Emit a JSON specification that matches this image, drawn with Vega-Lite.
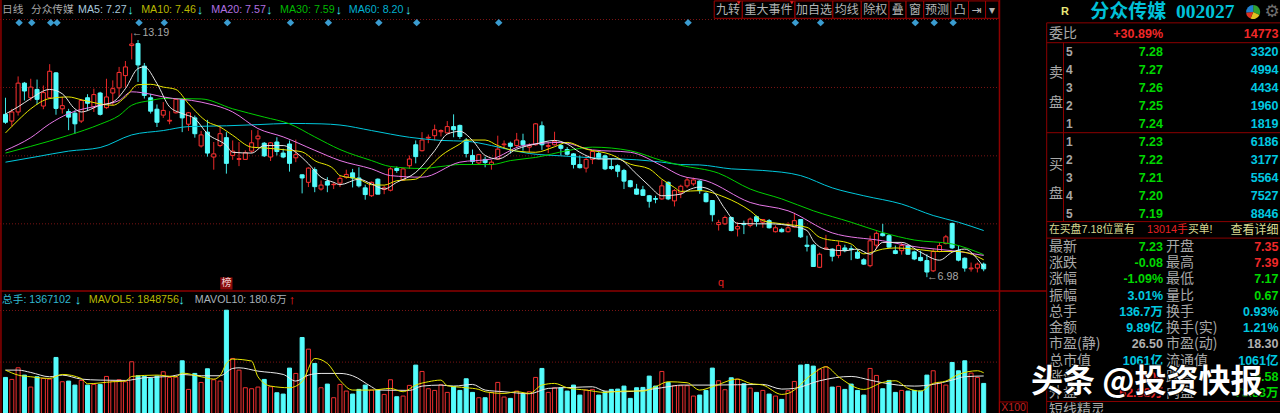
{
  "$schema": "https://vega.github.io/schema/vega-lite/v6.json",
  "width": 1280,
  "height": 413,
  "padding": 0,
  "autosize": {"type": "none"},
  "background": "#000000",
  "config": {"view": {"stroke": null}},
  "datasets": {
    "candles": [
      {"d":0,"dir":"down","o":11.14,"c":10.94,"h":11.56,"l":10.90,"v":17380},
      {"d":1,"dir":"up","o":10.97,"c":11.20,"h":11.28,"l":10.83,"v":16450},
      {"d":2,"dir":"up","o":11.20,"c":11.93,"h":12.10,"l":11.11,"v":21890},
      {"d":3,"dir":"down","o":11.93,"c":11.73,"h":11.96,"l":11.49,"v":18470},
      {"d":4,"dir":"up","o":11.56,"c":11.83,"h":12.04,"l":11.49,"v":12870},
      {"d":5,"dir":"down","o":11.77,"c":11.52,"h":12.02,"l":11.39,"v":17690},
      {"d":6,"dir":"up","o":11.35,"c":11.69,"h":11.87,"l":11.27,"v":16910},
      {"d":7,"dir":"up","o":11.56,"c":12.23,"h":12.41,"l":11.54,"v":16600},
      {"d":8,"dir":"down","o":12.19,"c":11.29,"h":12.21,"l":11.13,"v":26720},
      {"d":9,"dir":"up","o":11.28,"c":11.36,"h":11.58,"l":11.16,"v":15360},
      {"d":10,"dir":"down","o":11.21,"c":11.07,"h":11.28,"l":10.74,"v":15670},
      {"d":11,"dir":"down","o":11.17,"c":10.90,"h":11.24,"l":10.65,"v":13800},
      {"d":12,"dir":"up","o":10.97,"c":11.49,"h":11.53,"l":10.92,"v":15980},
      {"d":13,"dir":"down","o":11.56,"c":11.42,"h":11.65,"l":11.24,"v":13800},
      {"d":14,"dir":"up","o":11.33,"c":11.64,"h":11.79,"l":11.20,"v":14110},
      {"d":15,"dir":"down","o":11.68,"c":11.14,"h":11.71,"l":11.11,"v":14110},
      {"d":16,"dir":"up","o":11.31,"c":11.58,"h":12.04,"l":11.28,"v":17850},
      {"d":17,"dir":"up","o":11.68,"c":11.79,"h":12.00,"l":11.37,"v":15670},
      {"d":18,"dir":"up","o":11.81,"c":12.20,"h":12.34,"l":11.58,"v":16290},
      {"d":19,"dir":"up","o":12.12,"c":12.34,"h":12.49,"l":11.82,"v":15360},
      {"d":20,"dir":"up","o":12.88,"c":12.92,"h":13.19,"l":12.53,"v":24690},
      {"d":21,"dir":"down","o":12.93,"c":12.39,"h":13.02,"l":11.96,"v":18160},
      {"d":22,"dir":"down","o":12.36,"c":11.62,"h":12.44,"l":11.54,"v":17850},
      {"d":23,"dir":"down","o":11.56,"c":11.22,"h":11.66,"l":11.16,"v":16910},
      {"d":24,"dir":"down","o":11.27,"c":10.94,"h":11.39,"l":10.82,"v":18000},
      {"d":25,"dir":"up","o":11.12,"c":11.24,"h":11.45,"l":11.05,"v":20030},
      {"d":26,"dir":"up","o":10.97,"c":10.99,"h":11.22,"l":10.89,"v":17380},
      {"d":27,"dir":"up","o":11.18,"c":11.52,"h":11.54,"l":11.16,"v":17540},
      {"d":28,"dir":"down","o":11.51,"c":11.05,"h":11.54,"l":10.69,"v":25160},
      {"d":29,"dir":"up","o":10.89,"c":11.18,"h":11.20,"l":10.72,"v":11780},
      {"d":30,"dir":"down","o":11.05,"c":10.65,"h":11.11,"l":10.55,"v":19250},
      {"d":31,"dir":"up","o":10.34,"c":10.62,"h":10.72,"l":10.30,"v":15050},
      {"d":32,"dir":"down","o":10.69,"c":10.16,"h":11.00,"l":10.07,"v":21430},
      {"d":33,"dir":"up","o":10.06,"c":10.14,"h":10.44,"l":9.74,"v":16290},
      {"d":34,"dir":"up","o":10.35,"c":10.65,"h":10.86,"l":10.31,"v":15670},
      {"d":35,"dir":"down","o":10.55,"c":9.90,"h":10.69,"l":9.64,"v":48810},
      {"d":36,"dir":"up","o":10.10,"c":10.21,"h":10.48,"l":9.99,"v":26250},
      {"d":37,"dir":"up","o":10.00,"c":10.02,"h":10.44,"l":9.83,"v":20800},
      {"d":38,"dir":"up","o":10.00,"c":10.17,"h":10.23,"l":9.99,"v":12560},
      {"d":39,"dir":"up","o":10.21,"c":10.42,"h":10.74,"l":10.16,"v":12090},
      {"d":40,"dir":"up","o":10.52,"c":10.59,"h":10.74,"l":10.31,"v":12870},
      {"d":41,"dir":"down","o":10.41,"c":10.09,"h":10.44,"l":10.06,"v":16450},
      {"d":42,"dir":"up","o":10.06,"c":10.42,"h":10.44,"l":9.96,"v":13020},
      {"d":43,"dir":"down","o":10.44,"c":10.20,"h":10.56,"l":10.10,"v":10220},
      {"d":44,"dir":"down","o":10.16,"c":10.06,"h":10.27,"l":10.03,"v":9600},
      {"d":45,"dir":"down","o":10.39,"c":9.90,"h":10.48,"l":9.69,"v":21740},
      {"d":46,"dir":"up","o":10.04,"c":10.12,"h":10.50,"l":9.93,"v":19250},
      {"d":47,"dir":"down","o":9.61,"c":9.53,"h":9.62,"l":9.14,"v":36050},
      {"d":48,"dir":"up","o":9.42,"c":9.78,"h":9.80,"l":9.30,"v":30600},
      {"d":49,"dir":"down","o":9.74,"c":9.31,"h":9.80,"l":9.17,"v":23920},
      {"d":50,"dir":"up","o":9.25,"c":9.35,"h":9.47,"l":9.21,"v":12560},
      {"d":51,"dir":"down","o":9.44,"c":9.35,"h":9.55,"l":9.17,"v":14270},
      {"d":52,"dir":"up","o":9.36,"c":9.37,"h":9.42,"l":9.25,"v":7890},
      {"d":53,"dir":"up","o":9.40,"c":9.52,"h":9.60,"l":9.30,"v":14110},
      {"d":54,"dir":"up","o":9.55,"c":9.62,"h":9.74,"l":9.51,"v":11000},
      {"d":55,"dir":"down","o":9.66,"c":9.53,"h":9.76,"l":9.29,"v":9600},
      {"d":56,"dir":"down","o":9.53,"c":9.33,"h":9.80,"l":9.29,"v":11780},
      {"d":57,"dir":"down","o":9.28,"c":9.11,"h":9.36,"l":8.98,"v":13800},
      {"d":58,"dir":"up","o":9.08,"c":9.42,"h":9.44,"l":9.05,"v":11470},
      {"d":59,"dir":"down","o":9.50,"c":9.12,"h":9.52,"l":9.12,"v":11470},
      {"d":60,"dir":"up","o":9.24,"c":9.28,"h":9.34,"l":9.12,"v":9440},
      {"d":61,"dir":"up","o":9.22,"c":9.76,"h":9.80,"l":9.19,"v":16290},
      {"d":62,"dir":"down","o":9.77,"c":9.72,"h":9.82,"l":9.66,"v":8360},
      {"d":63,"dir":"up","o":9.48,"c":9.76,"h":9.78,"l":9.46,"v":8670},
      {"d":64,"dir":"up","o":9.84,"c":10.01,"h":10.10,"l":9.76,"v":13650},
      {"d":65,"dir":"down","o":10.37,"c":10.07,"h":10.48,"l":9.90,"v":23140},
      {"d":66,"dir":"up","o":10.22,"c":10.49,"h":10.69,"l":10.20,"v":20180},
      {"d":67,"dir":"up","o":10.54,"c":10.56,"h":10.63,"l":10.41,"v":12090},
      {"d":68,"dir":"up","o":10.60,"c":10.75,"h":10.88,"l":10.48,"v":11310},
      {"d":69,"dir":"up","o":10.70,"c":10.73,"h":10.76,"l":10.58,"v":13960},
      {"d":70,"dir":"up","o":10.67,"c":10.83,"h":10.97,"l":10.65,"v":10380},
      {"d":71,"dir":"down","o":10.83,"c":10.75,"h":11.14,"l":10.56,"v":13180},
      {"d":72,"dir":"down","o":10.86,"c":10.58,"h":10.88,"l":10.52,"v":11310},
      {"d":73,"dir":"down","o":10.49,"c":10.15,"h":10.54,"l":10.05,"v":16760},
      {"d":74,"dir":"down","o":10.10,"c":9.95,"h":10.25,"l":9.87,"v":10380},
      {"d":75,"dir":"up","o":9.91,"c":10.12,"h":10.14,"l":9.88,"v":7890},
      {"d":76,"dir":"down","o":10.00,"c":9.92,"h":10.07,"l":9.80,"v":7890},
      {"d":77,"dir":"up","o":9.87,"c":9.93,"h":9.98,"l":9.74,"v":10380},
      {"d":78,"dir":"up","o":10.01,"c":10.26,"h":10.60,"l":9.99,"v":15050},
      {"d":79,"dir":"up","o":10.37,"c":10.39,"h":10.48,"l":10.26,"v":8200},
      {"d":80,"dir":"down","o":10.41,"c":10.33,"h":10.45,"l":10.15,"v":7580},
      {"d":81,"dir":"up","o":10.35,"c":10.49,"h":10.67,"l":10.32,"v":11000},
      {"d":82,"dir":"down","o":10.47,"c":10.37,"h":10.65,"l":10.22,"v":9600},
      {"d":83,"dir":"up","o":10.31,"c":10.35,"h":10.41,"l":10.18,"v":10690},
      {"d":84,"dir":"up","o":10.37,"c":10.90,"h":10.92,"l":10.35,"v":17380},
      {"d":85,"dir":"down","o":10.85,"c":10.37,"h":10.96,"l":10.24,"v":21580},
      {"d":86,"dir":"up","o":10.33,"c":10.35,"h":10.43,"l":10.16,"v":10380},
      {"d":87,"dir":"up","o":10.37,"c":10.46,"h":10.70,"l":10.35,"v":12560},
      {"d":88,"dir":"down","o":10.35,"c":10.28,"h":10.39,"l":10.10,"v":12560},
      {"d":89,"dir":"down","o":10.25,"c":10.13,"h":10.31,"l":10.10,"v":11000},
      {"d":90,"dir":"down","o":10.14,"c":9.87,"h":10.16,"l":9.77,"v":13800},
      {"d":91,"dir":"down","o":9.87,"c":9.79,"h":10.10,"l":9.77,"v":9130},
      {"d":92,"dir":"up","o":9.78,"c":10.00,"h":10.09,"l":9.67,"v":11470},
      {"d":93,"dir":"up","o":10.00,"c":10.20,"h":10.22,"l":9.88,"v":11780},
      {"d":94,"dir":"down","o":10.15,"c":10.02,"h":10.20,"l":10.00,"v":9130},
      {"d":95,"dir":"down","o":10.09,"c":9.76,"h":10.12,"l":9.73,"v":10690},
      {"d":96,"dir":"down","o":9.82,"c":9.77,"h":10.03,"l":9.73,"v":11780},
      {"d":97,"dir":"down","o":9.84,"c":9.70,"h":9.88,"l":9.55,"v":11930},
      {"d":98,"dir":"down","o":9.72,"c":9.45,"h":9.76,"l":9.25,"v":13330},
      {"d":99,"dir":"down","o":9.46,"c":9.31,"h":9.48,"l":9.29,"v":7580},
      {"d":100,"dir":"down","o":9.25,"c":9.12,"h":9.38,"l":9.10,"v":12560},
      {"d":101,"dir":"down","o":9.23,"c":9.09,"h":9.33,"l":9.08,"v":12710},
      {"d":102,"dir":"down","o":9.08,"c":8.94,"h":9.10,"l":8.78,"v":18000},
      {"d":103,"dir":"down","o":9.01,"c":8.99,"h":9.08,"l":8.89,"v":13330},
      {"d":104,"dir":"up","o":9.00,"c":9.33,"h":9.48,"l":8.98,"v":20180},
      {"d":105,"dir":"down","o":9.42,"c":9.00,"h":9.44,"l":8.97,"v":15050},
      {"d":106,"dir":"up","o":8.95,"c":9.21,"h":9.25,"l":8.81,"v":13490},
      {"d":107,"dir":"up","o":9.15,"c":9.32,"h":9.36,"l":9.02,"v":13490},
      {"d":108,"dir":"up","o":9.33,"c":9.48,"h":9.55,"l":9.28,"v":13490},
      {"d":109,"dir":"up","o":9.38,"c":9.48,"h":9.54,"l":9.33,"v":8670},
      {"d":110,"dir":"down","o":9.45,"c":9.21,"h":9.47,"l":9.13,"v":9130},
      {"d":111,"dir":"down","o":9.14,"c":8.93,"h":9.17,"l":8.91,"v":11310},
      {"d":112,"dir":"down","o":8.96,"c":8.60,"h":8.97,"l":8.43,"v":21740},
      {"d":113,"dir":"up","o":8.35,"c":8.40,"h":8.47,"l":8.20,"v":15820},
      {"d":114,"dir":"up","o":8.37,"c":8.53,"h":8.58,"l":8.34,"v":11620},
      {"d":115,"dir":"down","o":8.53,"c":8.20,"h":8.55,"l":8.18,"v":17220},
      {"d":116,"dir":"up","o":8.24,"c":8.30,"h":8.41,"l":8.05,"v":16600},
      {"d":117,"dir":"down","o":8.38,"c":8.35,"h":8.45,"l":8.11,"v":14420},
      {"d":118,"dir":"up","o":8.33,"c":8.49,"h":8.53,"l":8.28,"v":12400},
      {"d":119,"dir":"down","o":8.55,"c":8.43,"h":8.58,"l":8.30,"v":10380},
      {"d":120,"dir":"up","o":8.41,"c":8.48,"h":8.49,"l":8.27,"v":11310},
      {"d":121,"dir":"down","o":8.45,"c":8.27,"h":8.49,"l":8.25,"v":9600},
      {"d":122,"dir":"up","o":8.17,"c":8.27,"h":8.33,"l":8.15,"v":8670},
      {"d":123,"dir":"down","o":8.23,"c":8.17,"h":8.27,"l":8.15,"v":7110},
      {"d":124,"dir":"up","o":8.17,"c":8.27,"h":8.41,"l":8.15,"v":11160},
      {"d":125,"dir":"up","o":8.29,"c":8.45,"h":8.65,"l":8.27,"v":15510},
      {"d":126,"dir":"down","o":8.48,"c":8.04,"h":8.49,"l":8.01,"v":23140},
      {"d":127,"dir":"down","o":7.83,"c":7.80,"h":8.07,"l":7.67,"v":23450},
      {"d":128,"dir":"down","o":7.83,"c":7.29,"h":7.86,"l":7.28,"v":22670},
      {"d":129,"dir":"up","o":7.27,"c":7.60,"h":7.64,"l":7.25,"v":21270},
      {"d":130,"dir":"up","o":7.73,"c":7.76,"h":8.09,"l":7.71,"v":22360},
      {"d":131,"dir":"down","o":7.73,"c":7.55,"h":7.75,"l":7.42,"v":12870},
      {"d":132,"dir":"up","o":7.57,"c":7.82,"h":7.93,"l":7.50,"v":13180},
      {"d":133,"dir":"down","o":7.76,"c":7.69,"h":7.84,"l":7.65,"v":11780},
      {"d":134,"dir":"down","o":7.74,"c":7.72,"h":7.82,"l":7.45,"v":14270},
      {"d":135,"dir":"down","o":7.65,"c":7.50,"h":7.73,"l":7.48,"v":11310},
      {"d":136,"dir":"down","o":7.46,"c":7.35,"h":7.50,"l":7.33,"v":9130},
      {"d":137,"dir":"up","o":7.31,"c":7.94,"h":8.07,"l":7.27,"v":21580},
      {"d":138,"dir":"up","o":7.83,"c":8.13,"h":8.18,"l":7.73,"v":18310},
      {"d":139,"dir":"down","o":8.12,"c":8.07,"h":8.37,"l":8.05,"v":12090},
      {"d":140,"dir":"down","o":8.07,"c":7.78,"h":8.11,"l":7.76,"v":15980},
      {"d":141,"dir":"down","o":7.69,"c":7.62,"h":7.82,"l":7.60,"v":10380},
      {"d":142,"dir":"up","o":7.69,"c":7.82,"h":7.90,"l":7.59,"v":11310},
      {"d":143,"dir":"down","o":7.82,"c":7.60,"h":7.84,"l":7.59,"v":11000},
      {"d":144,"dir":"down","o":7.66,"c":7.48,"h":7.69,"l":7.45,"v":11310},
      {"d":145,"dir":"down","o":7.52,"c":7.44,"h":7.69,"l":7.42,"v":11000},
      {"d":146,"dir":"down","o":7.44,"c":7.15,"h":7.60,"l":7.02,"v":18470},
      {"d":147,"dir":"up","o":7.18,"c":7.67,"h":7.73,"l":7.15,"v":20490},
      {"d":148,"dir":"up","o":7.67,"c":7.82,"h":7.90,"l":7.65,"v":14730},
      {"d":149,"dir":"up","o":7.87,"c":8.04,"h":8.09,"l":7.85,"v":13800},
      {"d":150,"dir":"down","o":8.38,"c":7.76,"h":8.40,"l":7.73,"v":24380},
      {"d":151,"dir":"down","o":7.69,"c":7.45,"h":7.82,"l":7.42,"v":20490},
      {"d":152,"dir":"down","o":7.50,"c":7.25,"h":7.52,"l":7.16,"v":25160},
      {"d":153,"dir":"up","o":7.23,"c":7.25,"h":7.39,"l":7.16,"v":19400},
      {"d":154,"dir":"up","o":7.25,"c":7.35,"h":7.39,"l":7.14,"v":17380},
      {"d":155,"dir":"down","o":7.35,"c":7.23,"h":7.39,"l":7.17,"v":14580}
    ],
    "ma": [
      {"s":"MA60","d":0,"p":9.93},{"s":"MA60","d":5,"p":10.07},{"s":"MA60","d":10,"p":10.21},{"s":"MA60","d":15,"p":10.30},{"s":"MA60","d":20,"p":10.62},{"s":"MA60","d":25,"p":10.73},{"s":"MA60","d":29,"p":10.83},{"s":"MA60","d":35,"p":10.85},{"s":"MA60","d":40,"p":10.88},{"s":"MA60","d":45,"p":10.91},{"s":"MA60","d":50,"p":10.90},{"s":"MA60","d":53,"p":10.87},{"s":"MA60","d":58,"p":10.73},{"s":"MA60","d":64,"p":10.56},{"s":"MA60","d":69,"p":10.48},{"s":"MA60","d":73,"p":10.46},{"s":"MA60","d":77,"p":10.35},{"s":"MA60","d":80,"p":10.24},{"s":"MA60","d":83,"p":10.15},{"s":"MA60","d":88,"p":10.09},{"s":"MA60","d":93,"p":10.04},{"s":"MA60","d":100,"p":9.99},{"s":"MA60","d":104,"p":9.93},{"s":"MA60","d":107,"p":9.87},{"s":"MA60","d":110,"p":9.86},{"s":"MA60","d":115,"p":9.76},{"s":"MA60","d":120,"p":9.72},{"s":"MA60","d":126,"p":9.59},{"s":"MA60","d":131,"p":9.28},{"s":"MA60","d":136,"p":9.08},{"s":"MA60","d":142,"p":8.87},{"s":"MA60","d":147,"p":8.58},{"s":"MA60","d":151,"p":8.41},{"s":"MA60","d":155,"p":8.20},
      {"s":"MA30","d":0,"p":10.16},{"s":"MA30","d":4,"p":10.33},{"s":"MA30","d":10,"p":10.61},{"s":"MA30","d":15,"p":10.89},{"s":"MA30","d":18,"p":11.11},{"s":"MA30","d":20,"p":11.37},{"s":"MA30","d":23,"p":11.49},{"s":"MA30","d":25,"p":11.54},{"s":"MA30","d":31,"p":11.53},{"s":"MA30","d":36,"p":11.28},{"s":"MA30","d":41,"p":11.07},{"s":"MA30","d":45,"p":10.90},{"s":"MA30","d":49,"p":10.57},{"s":"MA30","d":53,"p":10.25},{"s":"MA30","d":58,"p":9.97},{"s":"MA30","d":61,"p":9.82},{"s":"MA30","d":66,"p":9.77},{"s":"MA30","d":69,"p":9.82},{"s":"MA30","d":72,"p":9.87},{"s":"MA30","d":77,"p":9.87},{"s":"MA30","d":80,"p":9.97},{"s":"MA30","d":84,"p":10.05},{"s":"MA30","d":89,"p":10.22},{"s":"MA30","d":93,"p":10.31},{"s":"MA30","d":99,"p":10.22},{"s":"MA30","d":104,"p":9.97},{"s":"MA30","d":107,"p":9.85},{"s":"MA30","d":113,"p":9.65},{"s":"MA30","d":118,"p":9.25},{"s":"MA30","d":123,"p":9.00},{"s":"MA30","d":128,"p":8.70},{"s":"MA30","d":134,"p":8.41},{"s":"MA30","d":139,"p":8.15},{"s":"MA30","d":144,"p":7.96},{"s":"MA30","d":150,"p":7.86},{"s":"MA30","d":155,"p":7.59},
      {"s":"MA20","d":0,"p":10.23},{"s":"MA20","d":4,"p":10.55},{"s":"MA20","d":7,"p":10.90},{"s":"MA20","d":10,"p":11.16},{"s":"MA20","d":15,"p":11.37},{"s":"MA20","d":18,"p":11.49},{"s":"MA20","d":20,"p":11.71},{"s":"MA20","d":23,"p":11.65},{"s":"MA20","d":25,"p":11.58},{"s":"MA20","d":31,"p":11.45},{"s":"MA20","d":36,"p":11.20},{"s":"MA20","d":40,"p":10.78},{"s":"MA20","d":44,"p":10.57},{"s":"MA20","d":49,"p":10.23},{"s":"MA20","d":53,"p":9.97},{"s":"MA20","d":58,"p":9.76},{"s":"MA20","d":61,"p":9.59},{"s":"MA20","d":66,"p":9.55},{"s":"MA20","d":72,"p":9.93},{"s":"MA20","d":77,"p":10.01},{"s":"MA20","d":82,"p":10.35},{"s":"MA20","d":88,"p":10.43},{"s":"MA20","d":93,"p":10.24},{"s":"MA20","d":99,"p":10.18},{"s":"MA20","d":104,"p":9.84},{"s":"MA20","d":107,"p":9.59},{"s":"MA20","d":111,"p":9.46},{"s":"MA20","d":118,"p":8.91},{"s":"MA20","d":124,"p":8.70},{"s":"MA20","d":131,"p":8.14},{"s":"MA20","d":139,"p":7.94},{"s":"MA20","d":145,"p":7.77},{"s":"MA20","d":150,"p":7.69},{"s":"MA20","d":155,"p":7.57},
      {"s":"MA10","d":0,"p":10.67},{"s":"MA10","d":2,"p":10.99},{"s":"MA10","d":4,"p":11.28},{"s":"MA10","d":7,"p":11.54},{"s":"MA10","d":10,"p":11.58},{"s":"MA10","d":12,"p":11.51},{"s":"MA10","d":17,"p":11.37},{"s":"MA10","d":19,"p":11.58},{"s":"MA10","d":21,"p":11.89},{"s":"MA10","d":23,"p":11.90},{"s":"MA10","d":25,"p":11.83},{"s":"MA10","d":27,"p":11.77},{"s":"MA10","d":29,"p":11.41},{"s":"MA10","d":32,"p":10.95},{"s":"MA10","d":34,"p":10.82},{"s":"MA10","d":36,"p":10.61},{"s":"MA10","d":39,"p":10.31},{"s":"MA10","d":41,"p":10.29},{"s":"MA10","d":45,"p":10.23},{"s":"MA10","d":47,"p":10.19},{"s":"MA10","d":49,"p":9.97},{"s":"MA10","d":52,"p":9.76},{"s":"MA10","d":53,"p":9.59},{"s":"MA10","d":56,"p":9.50},{"s":"MA10","d":58,"p":9.36},{"s":"MA10","d":60,"p":9.35},{"s":"MA10","d":62,"p":9.46},{"s":"MA10","d":65,"p":9.50},{"s":"MA10","d":67,"p":9.78},{"s":"MA10","d":69,"p":10.09},{"s":"MA10","d":72,"p":10.39},{"s":"MA10","d":73,"p":10.49},{"s":"MA10","d":76,"p":10.49},{"s":"MA10","d":78,"p":10.35},{"s":"MA10","d":81,"p":10.21},{"s":"MA10","d":84,"p":10.18},{"s":"MA10","d":87,"p":10.32},{"s":"MA10","d":89,"p":10.43},{"s":"MA10","d":92,"p":10.26},{"s":"MA10","d":96,"p":10.12},{"s":"MA10","d":99,"p":9.88},{"s":"MA10","d":102,"p":9.76},{"s":"MA10","d":104,"p":9.50},{"s":"MA10","d":106,"p":9.29},{"s":"MA10","d":107,"p":9.19},{"s":"MA10","d":110,"p":9.21},{"s":"MA10","d":114,"p":9.04},{"s":"MA10","d":118,"p":8.70},{"s":"MA10","d":120,"p":8.45},{"s":"MA10","d":123,"p":8.37},{"s":"MA10","d":127,"p":8.28},{"s":"MA10","d":129,"p":8.03},{"s":"MA10","d":134,"p":7.86},{"s":"MA10","d":136,"p":7.61},{"s":"MA10","d":139,"p":7.73},{"s":"MA10","d":141,"p":7.76},{"s":"MA10","d":144,"p":7.73},{"s":"MA10","d":148,"p":7.67},{"s":"MA10","d":151,"p":7.67},{"s":"MA10","d":154,"p":7.54},{"s":"MA10","d":155,"p":7.46},
      {"s":"MA5","d":0,"p":11.15},{"s":"MA5","d":2,"p":11.33},{"s":"MA5","d":4,"p":11.54},{"s":"MA5","d":7,"p":11.77},{"s":"MA5","d":9,"p":11.66},{"s":"MA5","d":11,"p":11.28},{"s":"MA5","d":12,"p":11.20},{"s":"MA5","d":15,"p":11.37},{"s":"MA5","d":17,"p":11.45},{"s":"MA5","d":19,"p":11.79},{"s":"MA5","d":21,"p":12.30},{"s":"MA5","d":22,"p":12.34},{"s":"MA5","d":24,"p":11.92},{"s":"MA5","d":26,"p":11.33},{"s":"MA5","d":28,"p":11.16},{"s":"MA5","d":30,"p":11.03},{"s":"MA5","d":32,"p":10.65},{"s":"MA5","d":35,"p":10.35},{"s":"MA5","d":36,"p":10.18},{"s":"MA5","d":39,"p":10.16},{"s":"MA5","d":41,"p":10.35},{"s":"MA5","d":44,"p":10.35},{"s":"MA5","d":46,"p":10.18},{"s":"MA5","d":48,"p":9.89},{"s":"MA5","d":50,"p":9.55},{"s":"MA5","d":52,"p":9.42},{"s":"MA5","d":53,"p":9.36},{"s":"MA5","d":56,"p":9.50},{"s":"MA5","d":58,"p":9.38},{"s":"MA5","d":60,"p":9.25},{"s":"MA5","d":62,"p":9.42},{"s":"MA5","d":65,"p":9.67},{"s":"MA5","d":68,"p":10.22},{"s":"MA5","d":70,"p":10.64},{"s":"MA5","d":72,"p":10.71},{"s":"MA5","d":74,"p":10.48},{"s":"MA5","d":76,"p":10.10},{"s":"MA5","d":78,"p":10.01},{"s":"MA5","d":81,"p":10.26},{"s":"MA5","d":84,"p":10.39},{"s":"MA5","d":87,"p":10.48},{"s":"MA5","d":89,"p":10.39},{"s":"MA5","d":91,"p":10.18},{"s":"MA5","d":94,"p":10.01},{"s":"MA5","d":97,"p":10.01},{"s":"MA5","d":100,"p":9.63},{"s":"MA5","d":102,"p":9.33},{"s":"MA5","d":104,"p":9.08},{"s":"MA5","d":107,"p":9.12},{"s":"MA5","d":108,"p":9.21},{"s":"MA5","d":110,"p":9.30},{"s":"MA5","d":112,"p":9.20},{"s":"MA5","d":114,"p":8.75},{"s":"MA5","d":116,"p":8.38},{"s":"MA5","d":119,"p":8.37},{"s":"MA5","d":121,"p":8.37},{"s":"MA5","d":125,"p":8.30},{"s":"MA5","d":127,"p":8.20},{"s":"MA5","d":128,"p":7.94},{"s":"MA5","d":130,"p":7.73},{"s":"MA5","d":133,"p":7.69},{"s":"MA5","d":135,"p":7.73},{"s":"MA5","d":137,"p":7.60},{"s":"MA5","d":139,"p":7.90},{"s":"MA5","d":142,"p":7.90},{"s":"MA5","d":145,"p":7.65},{"s":"MA5","d":148,"p":7.45},{"s":"MA5","d":150,"p":7.65},{"s":"MA5","d":152,"p":7.73},{"s":"MA5","d":154,"p":7.48},{"s":"MA5","d":155,"p":7.27}
    ],
    "mavol": [
      {"s":"MAVOL10","d":0,"v":20800},{"s":"MAVOL10","d":2,"v":20800},{"s":"MAVOL10","d":4,"v":19710},{"s":"MAVOL10","d":7,"v":17690},{"s":"MAVOL10","d":9,"v":18470},{"s":"MAVOL10","d":12,"v":16600},{"s":"MAVOL10","d":15,"v":16130},{"s":"MAVOL10","d":19,"v":15980},{"s":"MAVOL10","d":22,"v":17220},{"s":"MAVOL10","d":26,"v":17850},{"s":"MAVOL10","d":28,"v":18780},{"s":"MAVOL10","d":31,"v":18160},{"s":"MAVOL10","d":34,"v":18160},{"s":"MAVOL10","d":36,"v":21580},{"s":"MAVOL10","d":37,"v":21890},{"s":"MAVOL10","d":40,"v":20340},{"s":"MAVOL10","d":44,"v":18780},{"s":"MAVOL10","d":46,"v":15670},{"s":"MAVOL10","d":48,"v":18470},{"s":"MAVOL10","d":50,"v":19250},{"s":"MAVOL10","d":53,"v":19250},{"s":"MAVOL10","d":55,"v":18160},{"s":"MAVOL10","d":58,"v":13020},{"s":"MAVOL10","d":59,"v":11470},{"s":"MAVOL10","d":64,"v":11310},{"s":"MAVOL10","d":66,"v":13330},{"s":"MAVOL10","d":69,"v":13800},{"s":"MAVOL10","d":71,"v":13330},{"s":"MAVOL10","d":74,"v":14110},{"s":"MAVOL10","d":76,"v":11470},{"s":"MAVOL10","d":79,"v":10690},{"s":"MAVOL10","d":83,"v":9760},{"s":"MAVOL10","d":86,"v":12250},{"s":"MAVOL10","d":90,"v":12710},{"s":"MAVOL10","d":93,"v":13020},{"s":"MAVOL10","d":95,"v":11000},{"s":"MAVOL10","d":98,"v":10690},{"s":"MAVOL10","d":104,"v":12560},{"s":"MAVOL10","d":106,"v":13490},{"s":"MAVOL10","d":107,"v":13800},{"s":"MAVOL10","d":112,"v":13800},{"s":"MAVOL10","d":120,"v":14110},{"s":"MAVOL10","d":123,"v":11930},{"s":"MAVOL10","d":125,"v":12250},{"s":"MAVOL10","d":129,"v":15820},{"s":"MAVOL10","d":134,"v":17850},{"s":"MAVOL10","d":137,"v":16130},{"s":"MAVOL10","d":139,"v":14890},{"s":"MAVOL10","d":144,"v":13330},{"s":"MAVOL10","d":147,"v":14110},{"s":"MAVOL10","d":150,"v":16130},{"s":"MAVOL10","d":152,"v":17690},{"s":"MAVOL10","d":155,"v":18060},
      {"s":"MAVOL5","d":0,"v":20800},{"s":"MAVOL5","d":2,"v":18470},{"s":"MAVOL5","d":4,"v":17690},{"s":"MAVOL5","d":7,"v":16910},{"s":"MAVOL5","d":9,"v":18780},{"s":"MAVOL5","d":12,"v":16910},{"s":"MAVOL5","d":13,"v":14420},{"s":"MAVOL5","d":17,"v":15360},{"s":"MAVOL5","d":19,"v":15670},{"s":"MAVOL5","d":20,"v":17850},{"s":"MAVOL5","d":24,"v":18470},{"s":"MAVOL5","d":27,"v":17690},{"s":"MAVOL5","d":28,"v":19400},{"s":"MAVOL5","d":31,"v":17690},{"s":"MAVOL5","d":33,"v":16600},{"s":"MAVOL5","d":34,"v":18160},{"s":"MAVOL5","d":35,"v":23920},{"s":"MAVOL5","d":36,"v":25940},{"s":"MAVOL5","d":39,"v":25010},{"s":"MAVOL5","d":40,"v":17690},{"s":"MAVOL5","d":42,"v":13330},{"s":"MAVOL5","d":45,"v":12560},{"s":"MAVOL5","d":47,"v":15360},{"s":"MAVOL5","d":49,"v":26250},{"s":"MAVOL5","d":51,"v":23920},{"s":"MAVOL5","d":53,"v":16000},{"s":"MAVOL5","d":55,"v":11470},{"s":"MAVOL5","d":56,"v":11470},{"s":"MAVOL5","d":58,"v":11470},{"s":"MAVOL5","d":61,"v":12250},{"s":"MAVOL5","d":63,"v":10690},{"s":"MAVOL5","d":65,"v":13800},{"s":"MAVOL5","d":67,"v":15360},{"s":"MAVOL5","d":69,"v":16130},{"s":"MAVOL5","d":70,"v":13490},{"s":"MAVOL5","d":73,"v":12560},{"s":"MAVOL5","d":75,"v":11780},{"s":"MAVOL5","d":76,"v":10690},{"s":"MAVOL5","d":79,"v":9910},{"s":"MAVOL5","d":81,"v":10690},{"s":"MAVOL5","d":83,"v":9910},{"s":"MAVOL5","d":85,"v":13800},{"s":"MAVOL5","d":87,"v":14580},{"s":"MAVOL5","d":89,"v":12560},{"s":"MAVOL5","d":92,"v":11470},{"s":"MAVOL5","d":95,"v":10380},{"s":"MAVOL5","d":98,"v":11000},{"s":"MAVOL5","d":101,"v":11000},{"s":"MAVOL5","d":103,"v":13020},{"s":"MAVOL5","d":105,"v":15360},{"s":"MAVOL5","d":108,"v":14890},{"s":"MAVOL5","d":110,"v":11470},{"s":"MAVOL5","d":112,"v":13020},{"s":"MAVOL5","d":116,"v":16600},{"s":"MAVOL5","d":118,"v":14580},{"s":"MAVOL5","d":120,"v":13800},{"s":"MAVOL5","d":123,"v":9440},{"s":"MAVOL5","d":124,"v":9910},{"s":"MAVOL5","d":128,"v":19250},{"s":"MAVOL5","d":130,"v":22360},{"s":"MAVOL5","d":132,"v":17690},{"s":"MAVOL5","d":136,"v":11780},{"s":"MAVOL5","d":139,"v":15050},{"s":"MAVOL5","d":141,"v":15820},{"s":"MAVOL5","d":143,"v":12250},{"s":"MAVOL5","d":145,"v":11000},{"s":"MAVOL5","d":147,"v":14580},{"s":"MAVOL5","d":149,"v":15670},{"s":"MAVOL5","d":151,"v":18780},{"s":"MAVOL5","d":154,"v":20490},{"s":"MAVOL5","d":155,"v":19550}
    ],
    "markers": [
      {"d":2,"p":13.46},{"d":4,"p":13.46},{"d":7,"p":13.46},{"d":8,"p":13.46},{"d":21,"p":13.46},{"d":25,"p":13.46},{"d":35,"p":13.46},{"d":45,"p":13.46},{"d":51,"p":13.46},{"d":59,"p":13.46},{"d":65,"p":13.46},{"d":78,"p":13.46},{"d":108,"p":13.46},{"d":125,"p":13.46},{"d":129,"p":13.46},{"d":144,"p":13.46},{"d":147,"p":13.46},{"d":150,"p":13.46}
    ],
    "buttons": [
      {"d":112.3,"d2":116.75,"p":14.01,"p2":13.57},
      {"d":116.75,"d2":125.1,"p":14.01,"p2":13.57},
      {"d":125.1,"d2":131.1,"p":14.01,"p2":13.57},
      {"d":131.1,"d2":135.6,"p":14.01,"p2":13.57},
      {"d":135.6,"d2":140.0,"p":14.01,"p2":13.57},
      {"d":140.0,"d2":142.7,"p":14.01,"p2":13.57},
      {"d":142.7,"d2":145.5,"p":14.01,"p2":13.57},
      {"d":145.5,"d2":149.8,"p":14.01,"p2":13.57},
      {"d":149.8,"d2":152.6,"p":14.01,"p2":13.57},
      {"d":152.6,"d2":155.3,"p":14.01,"p2":13.57},
      {"d":155.3,"d2":157.4,"p":14.01,"p2":13.57}
    ],
    "buttonLabels": [
      {"d":114.5,"p":13.79,"label":"九转"},
      {"d":120.9,"p":13.79,"label":"重大事件"},
      {"d":128.1,"p":13.79,"label":"加自选"},
      {"d":133.3,"p":13.79,"label":"均线"},
      {"d":137.8,"p":13.79,"label":"除权"},
      {"d":141.4,"p":13.79,"label":"叠"},
      {"d":144.1,"p":13.79,"label":"窗"},
      {"d":147.6,"p":13.79,"label":"预测"},
      {"d":151.2,"p":13.79,"label":"凸"},
      {"d":153.9,"p":13.79,"label":"⇥"},
      {"d":156.3,"p":13.79,"label":"▾"}
    ],
    "priceNotes": [
      {"d":-0.55,"p":13.78,"txt":"日线","kind":"label"},
      {"d":4.04,"p":13.78,"txt":"分众传媒","kind":"label"},
      {"d":11.49,"p":13.78,"txt":"MA5: 7.27","kind":"MA5"},
      {"d":21.5,"p":13.78,"txt":"MA10: 7.46","kind":"MA10"},
      {"d":32.6,"p":13.78,"txt":"MA20: 7.57","kind":"MA20"},
      {"d":43.5,"p":13.78,"txt":"MA30: 7.59","kind":"MA30"},
      {"d":54.4,"p":13.78,"txt":"MA60: 8.20","kind":"MA60"},
      {"d":20,"p":13.19,"txt":"←13.19","kind":"label"},
      {"d":146,"p":7.02,"txt":"←6.98","kind":"label"},
      {"d":112.9,"p":6.86,"txt":"q","kind":"flag"}
    ],
    "priceArrows": [
      {"d":19.8,"p":13.78,"txt":"↓"},{"d":30.8,"p":13.78,"txt":"↓"},{"d":41.8,"p":13.78,"txt":"↓"},{"d":52.8,"p":13.78,"txt":"↓"},{"d":63.8,"p":13.78,"txt":"↓"}
    ],
    "flags": [
      {"d":116.2,"p":13.96},{"d":124.6,"p":13.96}
    ],
    "volNotes": [
      {"d":-0.55,"v":53580,"txt":"总手: 1367102","kind":"total"},
      {"d":13.2,"v":53580,"txt":"MAVOL5: 1848756","kind":"MAVOL5"},
      {"d":30,"v":53580,"txt":"MAVOL10: 180.6万","kind":"MAVOL10"}
    ],
    "volArrows": [
      {"d":11.5,"v":53580,"txt":"↓","kind":"fall"},
      {"d":27.9,"v":53580,"txt":"↓","kind":"fall"},
      {"d":45.4,"v":53580,"txt":"↑","kind":"rise"}
    ],
    "panelLabels": [
      {"col":0,"row":1,"txt":"委比"},
      {"col":0,"row":3.17,"txt":"卖"},{"col":0,"row":4.86,"txt":"盘"},
      {"col":0,"row":8.3,"txt":"买"},{"col":0,"row":9.9,"txt":"盘"},
      {"col":0,"row":13,"txt":"最新"},{"col":4,"row":13,"txt":"开盘"},
      {"col":0,"row":14,"txt":"涨跌"},{"col":4,"row":14,"txt":"最高"},
      {"col":0,"row":15,"txt":"涨幅"},{"col":4,"row":15,"txt":"最低"},
      {"col":0,"row":16,"txt":"振幅"},{"col":4,"row":16,"txt":"量比"},
      {"col":0,"row":17,"txt":"总手"},{"col":4,"row":17,"txt":"换手"},
      {"col":0,"row":18,"txt":"金额"},{"col":4,"row":18,"txt":"换手(实)"},
      {"col":0,"row":19,"txt":"市盈(静)"},{"col":4,"row":19,"txt":"市盈(动)"},
      {"col":0,"row":20,"txt":"总市值"},{"col":4,"row":20,"txt":"流通值"},
      {"col":0,"row":21,"txt":"涨停"},{"col":4,"row":21,"txt":"跌停"},
      {"col":0,"row":22,"txt":"外盘"},{"col":4,"row":22,"txt":"内盘"},
      {"col":0,"row":23,"txt":"短线精灵"}
    ],
    "panelValues": [
      {"col":3,"row":1,"txt":"+30.89%","kind":"up"},{"col":6,"row":1,"txt":"14773","kind":"up"},
      {"col":3,"row":2,"txt":"7.28","kind":"down"},{"col":6,"row":2,"txt":"3320","kind":"size"},
      {"col":3,"row":3,"txt":"7.27","kind":"down"},{"col":6,"row":3,"txt":"4994","kind":"size"},
      {"col":3,"row":4,"txt":"7.26","kind":"down"},{"col":6,"row":4,"txt":"4434","kind":"size"},
      {"col":3,"row":5,"txt":"7.25","kind":"down"},{"col":6,"row":5,"txt":"1960","kind":"size"},
      {"col":3,"row":6,"txt":"7.24","kind":"down"},{"col":6,"row":6,"txt":"1819","kind":"size"},
      {"col":3,"row":7,"txt":"7.23","kind":"down"},{"col":6,"row":7,"txt":"6186","kind":"size"},
      {"col":3,"row":8,"txt":"7.22","kind":"down"},{"col":6,"row":8,"txt":"3177","kind":"size"},
      {"col":3,"row":9,"txt":"7.21","kind":"down"},{"col":6,"row":9,"txt":"5564","kind":"size"},
      {"col":3,"row":10,"txt":"7.20","kind":"down"},{"col":6,"row":10,"txt":"7527","kind":"size"},
      {"col":3,"row":11,"txt":"7.19","kind":"down"},{"col":6,"row":11,"txt":"8846","kind":"size"},
      {"col":3,"row":13,"txt":"7.23","kind":"down"},{"col":6,"row":13,"txt":"7.35","kind":"up"},
      {"col":3,"row":14,"txt":"-0.08","kind":"down"},{"col":6,"row":14,"txt":"7.39","kind":"up"},
      {"col":3,"row":15,"txt":"-1.09%","kind":"down"},{"col":6,"row":15,"txt":"7.17","kind":"down"},
      {"col":3,"row":16,"txt":"3.01%","kind":"size"},{"col":6,"row":16,"txt":"0.67","kind":"down"},
      {"col":3,"row":17,"txt":"136.7万","kind":"size"},{"col":6,"row":17,"txt":"0.93%","kind":"size"},
      {"col":3,"row":18,"txt":"9.89亿","kind":"size"},{"col":6,"row":18,"txt":"1.21%","kind":"size"},
      {"col":3,"row":19,"txt":"26.50","kind":"flat"},{"col":6,"row":19,"txt":"18.30","kind":"flat"},
      {"col":3,"row":20,"txt":"1061亿","kind":"size"},{"col":6,"row":20,"txt":"1061亿","kind":"size"},
      {"col":3,"row":21,"txt":"8.04","kind":"up"},{"col":6,"row":21,"txt":"6.58","kind":"down"},
      {"col":3,"row":22,"txt":"62.88万","kind":"up"},{"col":6,"row":22,"txt":"73.83万","kind":"down"}
    ],
    "panelLevels": [
      {"col":1,"row":2,"txt":"5"},{"col":1,"row":3,"txt":"4"},{"col":1,"row":4,"txt":"3"},{"col":1,"row":5,"txt":"2"},{"col":1,"row":6,"txt":"1"},
      {"col":1,"row":7,"txt":"1"},{"col":1,"row":8,"txt":"2"},{"col":1,"row":9,"txt":"3"},{"col":1,"row":10,"txt":"4"},{"col":1,"row":11,"txt":"5"}
    ],
    "panelNote": [
      {"col":0,"row":12,"txt":"在买盘7.18位置有","kind":"note"},
      {"col":2,"row":12,"txt":"13014手","kind":"up"},
      {"col":5,"row":12,"txt":"买单!","kind":"note"}
    ],
    "frameH": [
      {"col":-1,"col2":7,"row":0.5},{"col":-1,"col2":7,"row":1.5},{"col":-1,"col2":7,"row":6.5},{"col":-1,"col2":7,"row":11.5},{"col":-1,"col2":7,"row":12.5},{"col":-1,"col2":7,"row":22.5}
    ],
    "frameV": [
      {"col":-1,"row":0.5,"row2":24},{"col":0.5,"row":1.5,"row2":11.5}
    ],
    "pie": [
      {"col":5.72,"row":0,"share":32,"part":"a"},{"col":5.72,"row":0,"share":24,"part":"b"},{"col":5.72,"row":0,"share":18,"part":"c"},{"col":5.72,"row":0,"share":26,"part":"d"}
    ]
  },
  "layer": [
    {
      "encoding": {
        "x": {"field": "d", "type": "quantitative", "axis": null, "scale": {"domain": [-0.8715, 201.95], "range": [0, 1280], "nice": false, "zero": false, "padding": 0}},
        "y": {"field": "p", "type": "quantitative", "axis": {"orient": "right", "offset": -280.5, "title": null, "values": [8.37, 10.09, 11.82, 13.54], "format": ".2f", "grid": false, "ticks": false, "domain": false, "labelColor": "#c42020", "labelFont": "Liberation Sans", "labelFontSize": 11, "labelPadding": 2, "labelOverlap": false, "labelFlush": false}, "scale": {"domain": [6.67, 13.54], "range": [291, 19.5], "nice": false, "zero": false}}
      },
      "resolve": {"scale": {"color": "independent", "fill": "independent", "stroke": "independent"}},
      "layer": [
        {
          "data": {"values": [{"d":-0.87,"d2":157.5,"p":8.37},{"d":-0.87,"d2":157.5,"p":10.09},{"d":-0.87,"d2":157.5,"p":11.82},{"d":-0.87,"d2":157.5,"p":13.54}]},
          "mark": {"type": "rule", "color": "#7a1414", "strokeDash": [1, 2]},
          "encoding": {"x2": {"field": "d2"}}
        },
        {
          "data": {"values": [{"d":-0.87,"d2":165,"p":6.67}]},
          "mark": {"type": "rule", "color": "#8c0000", "strokeWidth": 1.5},
          "encoding": {"x2": {"field": "d2"}}
        },
        {
          "data": {"values": [{"d":-0.72,"p":3.5,"p2":14.05,"w":"left"},{"d":157.5,"p":3.5,"p2":14.05,"w":"axis"}]},
          "mark": {"type": "rule", "color": "#8c0000", "strokeWidth": 1.5},
          "encoding": {"y2": {"field": "p2"}}
        },
        {
          "data": {"name": "candles"},
          "mark": {"type": "rule", "strokeWidth": 1},
          "encoding": {
            "y": {"field": "l", "type": "quantitative", "axis": null, "scale": {"domain": [6.67, 13.54], "range": [291, 19.5], "nice": false, "zero": false}},
            "y2": {"field": "h"},
            "color": {"field": "dir", "type": "nominal", "legend": null, "scale": {"domain": ["up", "down"], "range": ["#e82828", "#40e8e8"]}}
          }
        },
        {
          "data": {"name": "candles"},
          "mark": {"type": "bar", "orient": "vertical", "size": 4, "strokeWidth": 1},
          "encoding": {
            "y": {"field": "o", "type": "quantitative", "axis": null, "stack": null, "scale": {"domain": [6.67, 13.54], "range": [291, 19.5], "nice": false, "zero": false}},
            "y2": {"field": "c"},
            "fill": {"field": "dir", "type": "nominal", "legend": null, "scale": {"domain": ["up", "down"], "range": ["#000000", "#54fcfc"]}},
            "stroke": {"field": "dir", "type": "nominal", "legend": null, "scale": {"domain": ["up", "down"], "range": ["#ff3232", "#54fcfc"]}}
          }
        },
        {
          "data": {"name": "ma"},
          "mark": {"type": "line", "interpolate": "monotone", "strokeWidth": 1},
          "encoding": {
            "color": {"field": "s", "type": "nominal", "legend": null, "scale": {"domain": ["MA5", "MA10", "MA20", "MA30", "MA60"], "range": ["#e8e8e8", "#e8e800", "#e878e8", "#00d000", "#00c8dc"]}},
            "order": {"field": "d", "type": "quantitative"}
          }
        },
        {
          "data": {"name": "markers"},
          "mark": {"type": "point", "shape": "diamond", "filled": true, "size": 55, "color": "#3a9cd0", "opacity": 1},
          "encoding": {"xOffset": {"value": 1}}
        },
        {
          "data": {"values": [{"d":35,"p":6.86}]},
          "mark": {"type": "square", "size": 150, "color": "#8a0a0a", "opacity": 1}
        },
        {
          "data": {"values": [{"d":35,"p":6.86,"txt":"榜"}]},
          "mark": {"type": "text", "font": "Noto Sans CJK SC", "fontSize": 10, "color": "#f0d0d0", "baseline": "middle"},
          "encoding": {"text": {"field": "txt"}}
        },
        {
          "data": {"name": "buttons"},
          "mark": {"type": "rect", "fill": "#000000", "stroke": "#a00000", "strokeWidth": 1},
          "encoding": {"x2": {"field": "d2"}, "y2": {"field": "p2"}}
        },
        {
          "data": {"name": "buttonLabels"},
          "mark": {"type": "text", "font": "Noto Sans CJK SC, DejaVu Sans", "fontSize": 12, "color": "#b4b4b4", "baseline": "middle"},
          "encoding": {"text": {"field": "label"}}
        },
        {
          "data": {"name": "flags"},
          "mark": {"type": "point", "shape": "triangle-down", "filled": true, "size": 14, "color": "#f02020", "opacity": 1}
        },
        {
          "data": {"name": "priceNotes"},
          "mark": {"type": "text", "font": "Liberation Sans, Noto Sans CJK SC", "fontSize": 10.7, "align": "left", "baseline": "middle"},
          "encoding": {
            "text": {"field": "txt"},
            "color": {"field": "kind", "type": "nominal", "legend": null, "scale": {"domain": ["label", "MA5", "MA10", "MA20", "MA30", "MA60", "flag"], "range": ["#a8a8a8", "#a8c8dc", "#b8b800", "#b070e0", "#00b800", "#00b0d0", "#e82020"]}}
          }
        },
        {
          "data": {"name": "priceArrows"},
          "mark": {"type": "text", "font": "Liberation Sans", "fontSize": 13, "fontWeight": "bold", "baseline": "middle", "color": "#40e8f0"},
          "encoding": {"text": {"field": "txt"}}
        }
      ]
    },
    {
      "encoding": {
        "x": {"field": "d", "type": "quantitative", "axis": null, "scale": {"domain": [-0.8715, 201.95], "range": [0, 1280], "nice": false, "zero": false, "padding": 0}},
        "y": {"field": "v", "type": "quantitative", "axis": {"orient": "right", "offset": -280.5, "title": null, "values": [24548, 48672], "format": "d", "grid": false, "ticks": false, "domain": false, "labelColor": "#c42020", "labelFont": "Liberation Sans", "labelFontSize": 11, "labelPadding": 2, "labelOverlap": false}, "scale": {"domain": [0, 48672], "range": [414.6, 310.5], "nice": false, "zero": false}}
      },
      "resolve": {"scale": {"color": "independent", "fill": "independent", "stroke": "independent"}},
      "layer": [
        {
          "data": {"values": [{"d":-0.87,"d2":157.5,"v":24548},{"d":-0.87,"d2":157.5,"v":48672}]},
          "mark": {"type": "rule", "color": "#7a1414", "strokeDash": [1, 2]},
          "encoding": {"x2": {"field": "d2"}}
        },
        {
          "data": {"name": "candles"},
          "mark": {"type": "bar", "orient": "vertical", "size": 4, "strokeWidth": 1},
          "encoding": {
            "y": {"field": "v", "type": "quantitative", "stack": null, "axis": null, "scale": {"domain": [0, 48672], "range": [414.6, 310.5], "nice": false, "zero": false}},
            "y2": {"datum": 0},
            "fill": {"field": "dir", "type": "nominal", "legend": null, "scale": {"domain": ["up", "down"], "range": ["#000000", "#54fcfc"]}},
            "stroke": {"field": "dir", "type": "nominal", "legend": null, "scale": {"domain": ["up", "down"], "range": ["#f03030", "#54fcfc"]}}
          }
        },
        {
          "data": {"name": "mavol"},
          "mark": {"type": "line", "interpolate": "monotone", "strokeWidth": 1},
          "encoding": {
            "color": {"field": "s", "type": "nominal", "legend": null, "scale": {"domain": ["MAVOL5", "MAVOL10"], "range": ["#e8e800", "#e8e8e8"]}},
            "order": {"field": "d", "type": "quantitative"}
          }
        },
        {
          "data": {"values": [{"d":157.5,"d2":161.9,"v":5900,"v2":0}]},
          "mark": {"type": "rect", "fill": "#000000", "stroke": "#a00000"},
          "encoding": {"x2": {"field": "d2"}, "y2": {"field": "v2"}}
        },
        {
          "data": {"values": [{"d":157.8,"v":3000,"txt":"X100"}]},
          "mark": {"type": "text", "font": "Liberation Sans", "fontSize": 10.5, "align": "left", "baseline": "middle", "color": "#c42020"},
          "encoding": {"text": {"field": "txt"}}
        },
        {
          "data": {"name": "volNotes"},
          "mark": {"type": "text", "font": "Liberation Sans, Noto Sans CJK SC", "fontSize": 10.7, "align": "left", "baseline": "middle"},
          "encoding": {
            "text": {"field": "txt"},
            "color": {"field": "kind", "type": "nominal", "legend": null, "scale": {"domain": ["total", "MAVOL5", "MAVOL10"], "range": ["#30b8d0", "#b8b800", "#a8b0b8"]}}
          }
        },
        {
          "data": {"name": "volArrows"},
          "mark": {"type": "text", "font": "Liberation Sans", "fontSize": 13, "fontWeight": "bold", "baseline": "middle"},
          "encoding": {
            "text": {"field": "txt"},
            "color": {"field": "kind", "type": "nominal", "legend": null, "scale": {"domain": ["fall", "rise"], "range": ["#40e8f0", "#ff2020"]}}
          }
        }
      ]
    },
    {
      "encoding": {
        "x": {"field": "col", "type": "quantitative", "axis": null, "scale": {"domain": [-2, -1, 0, 0.5, 1, 2, 3, 4, 5, 6, 7], "range": [1031, 1046.7, 1049, 1063.5, 1066, 1147, 1163, 1166, 1188, 1278.5, 1280]}},
        "y": {"field": "row", "type": "quantitative", "axis": null, "scale": {"domain": [0, 1, 11, 12, 13, 23, 24], "range": [12, 33.7, 213.7, 229.5, 246.7, 409.6, 426]}}
      },
      "resolve": {"scale": {"color": "independent", "fill": "independent", "stroke": "independent", "theta": "independent"}},
      "layer": [
        {
          "data": {"name": "frameH"},
          "mark": {"type": "rule", "color": "#8c0000", "strokeWidth": 1},
          "encoding": {"x2": {"field": "col2"}}
        },
        {
          "data": {"name": "frameV"},
          "mark": {"type": "rule", "color": "#8c0000", "strokeWidth": 1},
          "encoding": {"y2": {"field": "row2"}}
        },
        {
          "data": {"name": "panelLabels"},
          "mark": {"type": "text", "font": "Noto Sans CJK SC", "fontSize": 14, "align": "left", "baseline": "middle", "color": "#a8a8a8"},
          "encoding": {"text": {"field": "txt"}}
        },
        {
          "data": {"name": "panelLevels"},
          "mark": {"type": "text", "font": "Liberation Sans", "fontSize": 12, "fontWeight": "bold", "align": "left", "baseline": "middle", "color": "#a8a8a8"},
          "encoding": {"text": {"field": "txt"}}
        },
        {
          "data": {"name": "panelValues"},
          "mark": {"type": "text", "font": "Liberation Sans, Noto Sans CJK SC", "fontSize": 12.5, "fontWeight": "bold", "align": "right", "baseline": "middle"},
          "encoding": {
            "text": {"field": "txt"},
            "color": {"field": "kind", "type": "nominal", "legend": null, "scale": {"domain": ["up", "down", "size", "flat"], "range": ["#f02828", "#00d800", "#00c8e0", "#b0b0b0"]}}
          }
        },
        {
          "data": {"name": "panelNote"},
          "mark": {"type": "text", "font": "Liberation Sans, Noto Sans CJK SC", "fontSize": 10.8, "align": "left", "baseline": "middle"},
          "encoding": {
            "text": {"field": "txt"},
            "color": {"field": "kind", "type": "nominal", "legend": null, "scale": {"domain": ["up", "note"], "range": ["#e82020", "#d8d890"]}}
          }
        },
        {
          "data": {"values": [{"col":6,"row":12,"txt":"查看详细"}]},
          "mark": {"type": "text", "font": "Noto Sans CJK SC", "fontSize": 12, "align": "right", "baseline": "middle", "color": "#d8d890"},
          "encoding": {"text": {"field": "txt"}}
        },
        {
          "data": {"values": [{"col":0.41,"row":0,"txt":"R"}]},
          "mark": {"type": "text", "font": "Liberation Sans", "fontSize": 11, "fontWeight": "bold", "align": "left", "baseline": "middle", "color": "#e8e878"},
          "encoding": {"text": {"field": "txt"}}
        },
        {
          "data": {"values": [{"col":1.3,"row":0,"txt":"分众传媒"}]},
          "mark": {"type": "text", "font": "Noto Sans CJK SC", "fontSize": 19, "fontWeight": "bold", "align": "left", "baseline": "middle", "color": "#00c0d8"},
          "encoding": {"text": {"field": "txt"}}
        },
        {
          "data": {"values": [{"col":4.45,"row":0,"txt":"002027"}]},
          "mark": {"type": "text", "font": "Liberation Serif", "fontSize": 19.5, "fontWeight": "bold", "align": "left", "baseline": "middle", "color": "#00c0d8"},
          "encoding": {"text": {"field": "txt"}}
        },
        {
          "data": {"name": "pie"},
          "mark": {"type": "arc", "outerRadius": 7},
          "encoding": {
            "theta": {"field": "share", "type": "quantitative", "stack": true},
            "color": {"field": "part", "type": "nominal", "legend": null, "scale": {"domain": ["a", "b", "c", "d"], "range": ["#30a030", "#e0c020", "#e03020", "#2080d0"]}}
          }
        },
        {
          "data": {"values": [{"col":5.93,"row":0,"txt":"⚙"}]},
          "mark": {"type": "text", "font": "DejaVu Sans", "fontSize": 17, "baseline": "middle", "color": "#707070"},
          "encoding": {"text": {"field": "txt"}}
        },
        {
          "data": {"values": [{"col":-2,"row":21.3,"txt":"头条 @投资快报"}]},
          "mark": {"type": "text", "font": "Noto Sans CJK SC", "fontSize": 32, "fontWeight": "bold", "align": "left", "baseline": "middle", "color": "#000000", "stroke": "#000000", "strokeWidth": 2.5, "opacity": 0.75},
          "encoding": {"text": {"field": "txt"}}
        },
        {
          "data": {"values": [{"col":-2,"row":21.3,"txt":"头条 @投资快报"}]},
          "mark": {"type": "text", "font": "Noto Sans CJK SC", "fontSize": 32, "fontWeight": "bold", "align": "left", "baseline": "middle", "color": "#ffffff"},
          "encoding": {"text": {"field": "txt"}}
        }
      ]
    }
  ],
  "resolve": {"scale": {"x": "independent", "y": "independent", "color": "independent", "fill": "independent", "stroke": "independent"}, "axis": {"y": "independent"}}
}
